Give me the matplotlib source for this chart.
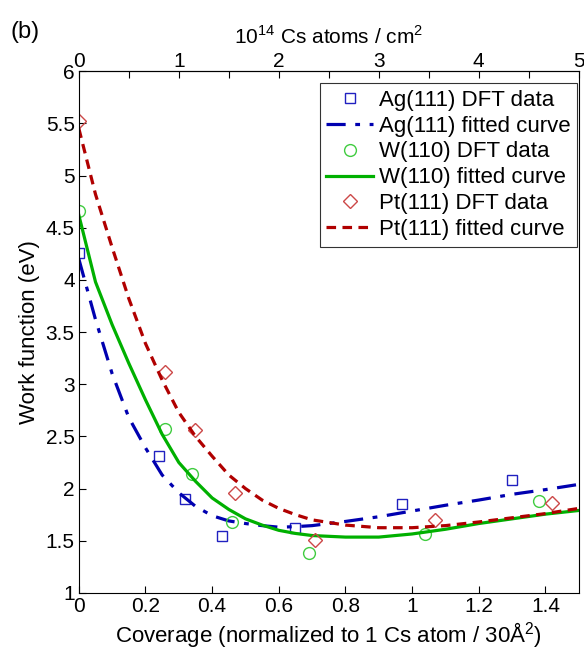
import numpy as np
import matplotlib
matplotlib.use("Agg")
import matplotlib.pyplot as plt
from matplotlib.ticker import MultipleLocator

plt.rcParams['font.family'] = ['Liberation Sans', 'DejaVu Sans']
plt.rcParams['font.size'] = 15
plt.rcParams['mathtext.fontset'] = 'custom'
plt.rcParams['mathtext.rm'] = 'Liberation Sans'

# DFT data points (coverage, work function in eV)
ag_x = [0.0, 0.24, 0.32, 0.43, 0.65, 0.97, 1.30]
ag_y = [4.26, 2.31, 1.90, 1.55, 1.62, 1.85, 2.08]
w_x = [0.0, 0.26, 0.34, 0.46, 0.69, 1.04, 1.38]
w_y = [4.66, 2.57, 2.14, 1.68, 1.38, 1.56, 1.88]
pt_x = [0.0, 0.26, 0.35, 0.47, 0.71, 1.07, 1.42]
pt_y = [5.52, 3.12, 2.56, 1.96, 1.51, 1.70, 1.86]

# fitted curves
curve_x = [0.0, 0.05, 0.1, 0.15, 0.2, 0.25, 0.3, 0.35, 0.4, 0.45, 0.5, 0.55,
           0.6, 0.65, 0.7, 0.8, 0.9, 1.0, 1.1, 1.2, 1.3, 1.4, 1.5]
ag_fit = [4.20, 3.62, 3.10, 2.68, 2.39, 2.13, 1.96, 1.83, 1.74, 1.69, 1.665, 1.645,
          1.63, 1.635, 1.645, 1.685, 1.73, 1.785, 1.84, 1.89, 1.945, 1.99, 2.04]
w_fit = [4.62, 3.98, 3.57, 3.20, 2.85, 2.52, 2.25, 2.07, 1.91, 1.80, 1.71, 1.65,
         1.60, 1.57, 1.55, 1.535, 1.535, 1.565, 1.61, 1.665, 1.71, 1.755, 1.79]
pt_fit = [5.45, 4.82, 4.31, 3.82, 3.39, 3.04, 2.73, 2.50, 2.31, 2.13, 2.00, 1.89,
          1.81, 1.75, 1.70, 1.65, 1.625, 1.625, 1.645, 1.68, 1.72, 1.76, 1.81]

fig = plt.figure(figsize=(5.84, 6.53), dpi=100)
ax = fig.add_axes([0.135, 0.092, 0.856, 0.799])

ax.plot(ag_x, ag_y, 's', mfc='none', mec='#2020c0', ms=7.5, mew=1.0,
        label='Ag(111) DFT data')
ax.plot(curve_x, ag_fit, '-.', color='#0000b0', lw=2.3, dashes=(6, 3, 1.5, 3),
        label='Ag(111) fitted curve')
ax.plot(w_x, w_y, 'o', mfc='none', mec='#40cc40', ms=8.5, mew=1.0,
        label='W(110) DFT data')
ax.plot(curve_x, w_fit, '-', color='#00b000', lw=2.3, label='W(110) fitted curve')
ax.plot(pt_x, pt_y, 'D', mfc='none', mec='#cc4848', ms=7, mew=1.0,
        label='Pt(111) DFT data')
ax.plot(curve_x, pt_fit, '--', color='#b00000', lw=2.3, dashes=(3, 2),
        label='Pt(111) fitted curve')

ax.set_xlim(0, 1.5)
ax.set_ylim(1, 6)
ax.set_xticks([0, 0.2, 0.4, 0.6, 0.8, 1.0, 1.2, 1.4])
ax.set_xticklabels(['0', '0.2', '0.4', '0.6', '0.8', '1', '1.2', '1.4'])
ax.set_yticks(np.arange(1, 6.01, 0.5))
ax.set_yticklabels(['1', '1.5', '2', '2.5', '3', '3.5', '4', '4.5', '5', '5.5', '6'])
ax.tick_params(direction='in', length=5, width=0.8, pad=3, labelsize=15)
ax.set_xlabel('Coverage (normalized to 1 Cs atom / 30Å$^2$)', fontsize=16, labelpad=3)
ax.set_ylabel('Work function (eV)', fontsize=16, labelpad=4)

top = ax.secondary_xaxis('top', functions=(lambda x: x * 10 / 3, lambda t: t * 3 / 10))
top.set_xticks([0, 1, 2, 3, 4, 5])
top.xaxis.set_minor_locator(MultipleLocator(0.5))
top.tick_params(which='both', direction='in', length=5, width=0.8, pad=0, labelsize=15)
top.set_xlabel('10$^{14}$ Cs atoms / cm$^2$', fontsize=15, labelpad=6)

leg = ax.legend(loc='upper right', bbox_to_anchor=(577 / 584, 1 - 83 / 653),
                bbox_transform=fig.transFigure, borderaxespad=0,
                fontsize=16, frameon=True, fancybox=False, edgecolor='black',
                handlelength=2.1, handletextpad=0.25, labelspacing=0.22,
                borderpad=0.3)
leg.get_frame().set_linewidth(0.8)

fig.text(0.018, 0.942, '(b)', fontsize=17)

fig.savefig('out.png', dpi=100)
